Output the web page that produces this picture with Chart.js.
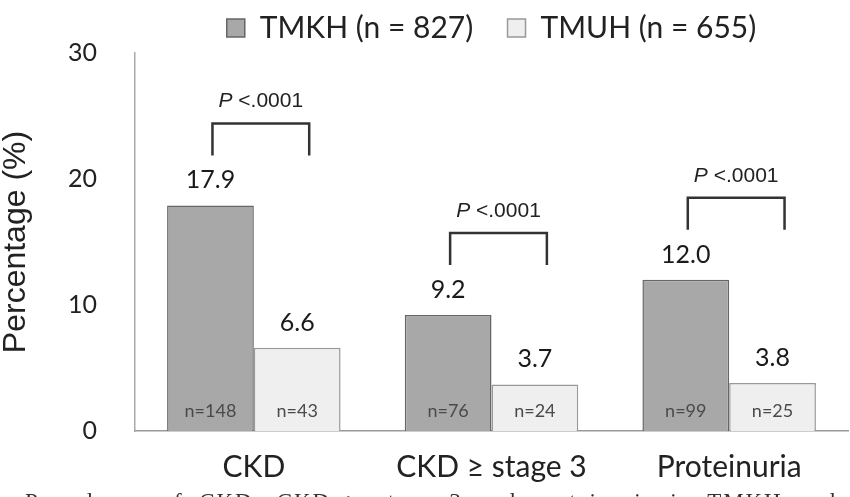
<!DOCTYPE html>
<html><head><meta charset="utf-8">
<script src="https://cdn.jsdelivr.net/npm/chart.js@4.4.1/dist/chart.umd.min.js"></script>
<style>
html,body{margin:0;padding:0;background:#fff;overflow:hidden;width:850px;height:497px;}
#wrap{position:relative;width:850px;height:497px;overflow:hidden;}
#c{position:absolute;left:0;top:0;}
#caption{position:absolute;left:25px;top:489px;font:23px "Liberation Serif",serif;color:#333;white-space:nowrap;word-spacing:8px;letter-spacing:1.9px}
</style></head><body>
<div id="wrap"><canvas id="c" width="850" height="497"></canvas><div id="caption">Prevalence of CKD, CKD ≥ stage 3 and proteinuria in TMKH and TMUH</div></div>
<script>
const categories = ['CKD', 'CKD ≥ stage 3', 'Proteinuria'];
const seriesNames = ['TMKH (n = 827)', 'TMUH (n = 655)'];
const tmkhValues = [17.9, 9.2, 12.0];
const tmuhValues = [6.6, 3.7, 3.8];
const tmkhCounts = [148, 76, 99];
const tmuhCounts = [43, 24, 25];
const pLabels = ['<.0001', '<.0001', '<.0001'];
const yTicks = [0, 10, 20, 30];

const annot = {
  id: 'annot',
  afterDatasetsDraw(chart) {
    const ctx = chart.ctx;
    const m0 = chart.getDatasetMeta(0), m1 = chart.getDatasetMeta(1);
    const counts = [tmkhCounts, tmuhCounts];
    [m0, m1].forEach((meta, di) => {
      meta.data.forEach((bar, i) => {
        const v = chart.data.datasets[di].data[i];
        ctx.save();
        ctx.fillStyle = '#1a1a1a';
        ctx.font = '25px Lato';
        ctx.textAlign = 'center';
        ctx.textBaseline = 'alphabetic';
        ctx.fillText(v.toFixed(1), bar.x, bar.y - 17);
        ctx.fillStyle = '#4a4a4a';
        ctx.font = '18px Lato';
        ctx.textBaseline = 'middle';
        ctx.fillText('n=' + counts[di][i], bar.x, bar.base - 20);
        ctx.restore();
      });
    });
    m0.data.forEach((b0, i) => {
      const b1 = m1.data[i];
      const x1 = b0.x + 2, x2 = b1.x + 12;
      const bottom = b0.y - 50, top = bottom - 32;
      ctx.save();
      ctx.strokeStyle = '#333';
      ctx.lineWidth = 2.5;
      ctx.beginPath();
      ctx.moveTo(x1, bottom); ctx.lineTo(x1, top); ctx.lineTo(x2, top); ctx.lineTo(x2, bottom);
      ctx.stroke();
      ctx.fillStyle = '#222';
      ctx.textBaseline = 'middle';
      ctx.textAlign = 'left';
      const fi = 'italic 21px "Liberation Sans"', fr = '21px "Liberation Sans"';
      ctx.font = fi; const wP = ctx.measureText('P').width;
      ctx.font = fr; const wR = ctx.measureText(' ' + pLabels[i]).width;
      const cx = (x1 + x2) / 2, ty = top - 22;
      let sx = cx - (wP + wR) / 2;
      ctx.font = fi; ctx.fillText('P', sx, ty);
      ctx.font = fr; ctx.fillText(' ' + pLabels[i], sx + wP, ty);
      ctx.restore();
    });
  }
};

new Chart(document.getElementById('c'), {
  type: 'bar',
  data: {
    labels: categories,
    datasets: [
      { label: seriesNames[0], data: tmkhValues, backgroundColor: '#a8a8a8', borderColor: '#666666', borderWidth: 1.5 },
      { label: seriesNames[1], data: tmuhValues, backgroundColor: '#efefef', borderColor: '#999999', borderWidth: 1.5 }
    ]
  },
  options: {
    responsive: false,
    animation: false,
    layout: { padding: { top: 1, left: 0, right: 2, bottom: 0 } },
    datasets: { bar: { categoryPercentage: 0.73, barPercentage: 1.0 } },
    plugins: {
      tooltip: { enabled: false },
      legend: {
        position: 'top',
        fullSize: false,
        labels: {
          boxWidth: 18, boxHeight: 18, padding: 8,
          color: '#222',
          font: { family: 'Lato', size: 30 },
          generateLabels(chart) {
            return chart.data.datasets.map((d, i) => ({
              text: i === 0 ? d.label + '\u2003\u2009' : d.label,
              fillStyle: d.backgroundColor, strokeStyle: d.borderColor,
              lineWidth: 1.5, datasetIndex: i, fontColor: '#222'
            }));
          }
        }
      }
    },
    scales: {
      x: {
        grid: { display: false, drawTicks: false },
        border: { display: true, color: '#9a9a9a', width: 1.5 },
        ticks: { color: '#222', font: { family: 'Lato', size: 30 }, padding: 18, maxRotation: 0 },
        afterFit(s) { s.height = 66; }
      },
      y: {
        min: 0, max: 30,
        afterBuildTicks(s) { s.ticks = yTicks.map(v => ({ value: v })); },
        grid: { display: false, drawTicks: false },
        border: { display: true, color: '#aaaaaa', width: 1.5 },
        ticks: { color: '#222', font: { family: 'Lato', size: 25 }, padding: 38 },
        title: { display: true, text: 'Percentage (%)', color: '#222', font: { family: '"Liberation Sans"', size: 32, lineHeight: 1 }, padding: 0 },
        afterFit(s) { s.width = 135; }
      }
    }
  },
  plugins: [annot]
});
</script>
</body></html>
